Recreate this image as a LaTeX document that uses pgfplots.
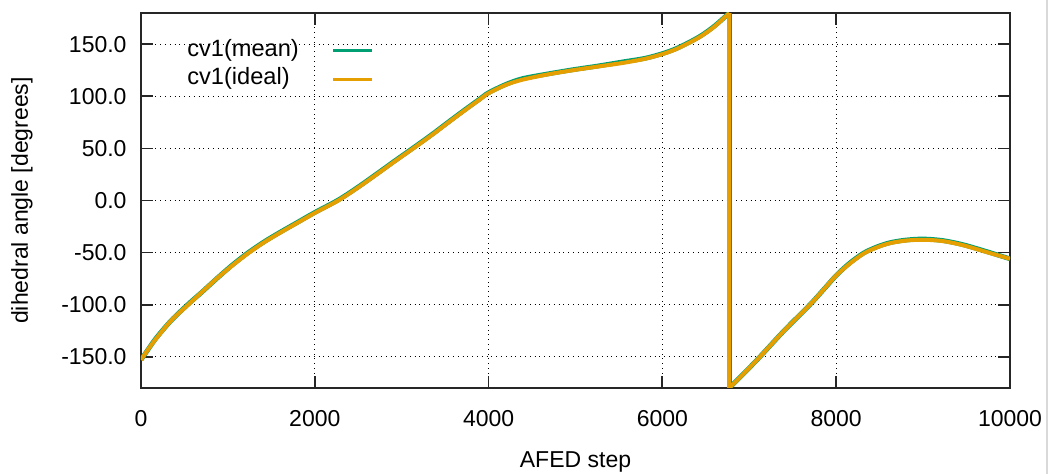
\documentclass[border=0pt]{standalone}
\usepackage{pgfplots}
\pgfplotsset{compat=1.18}
\usepackage{fontspec}
\setmainfont{Liberation Sans}

\definecolor{cvmean}{HTML}{009E73}
\definecolor{cvideal}{HTML}{E69F00}

\begin{document}
\begin{tikzpicture}
\begin{axis}[
  scale only axis, width=434.5pt, height=187.5pt,
  xmin=0, xmax=10000, ymin=-180, ymax=180,
  xtick={0,2000,...,10000}, ytick={-150,-100,...,150},
  grid=major, grid style={black, dotted, line width=0.5pt},
  axis line style={black!85, line width=0.9pt},
  major tick length=6pt, tick style={black!85, line width=0.9pt},
  font=\fontsize{11.5}{13.5}\selectfont,
  /pgf/number format/assume math mode=true,
  scaled x ticks=false,
  xticklabel style={/pgf/number format/fixed, /pgf/number format/1000 sep={}, yshift=-7.5pt},
  yticklabel style={/pgf/number format/fixed, /pgf/number format/fixed zerofill, /pgf/number format/precision=1, xshift=-3.7pt},
  xlabel={AFED step}, ylabel={dihedral angle [degrees]},
  xlabel style={at={(axis description cs:0.5,-0.197)}, anchor=center},
  ylabel style={at={(axis description cs:-0.137,0.5)}, anchor=center},
  legend plot pos=right,
  legend cell align=left,
  legend style={at={(axis description cs:0.046,0.939)}, anchor=north west,
    draw=none, fill=none, inner sep=0pt, row sep=0pt,
    nodes={inner xsep=3pt, inner ysep=1.75pt, text height=8.3pt, text depth=2.5pt},
    font=\fontsize{11.8}{14}\selectfont},
  legend image code/.code={\path (0pt,0pt); \draw[#1, line width=1.5pt] (13pt,0pt) -- (32.5pt,0pt);},
]
% mean of the collective variable (slightly noisy)
\addplot[cvmean, line width=2.4pt, smooth, tension=0.5] coordinates {
  (0,-153) (90,-142) (180,-131.5) (350,-115) (544,-99.5) (700,-88) (871,-75)
  (1050,-62) (1235,-50) (1420,-39.5) (1600,-30.5) (1800,-21) (2000,-11.5)
  (2270,0.5) (2500,13) (2712,25.5) (2920,38) (3133,50.5) (3350,63.5) (3556,76.5)
  (3750,88.5) (3900,97.5) (4000,103.5) (4200,111.5) (4391,117) (4680,121.5)
  (4966,125.5) (5250,129) (5541,133) (5800,136.5) (6000,141) (6150,145.5)
  (6300,151.5) (6450,158.5) (6600,167.5) (6770,180)
};
\addlegendentry{cv1(mean)}
\addplot[cvmean, line width=2.4pt, forget plot] coordinates {(6770,180) (6770,-180)};
\addplot[cvmean, line width=2.4pt, smooth, tension=0.5, forget plot] coordinates {
  (6770,-180) (6950,-165) (7123,-150) (7400,-125) (7698,-100) (7850,-86)
  (8000,-72) (8150,-60.5) (8315,-50.5) (8470,-44.5) (8619,-40.5) (8800,-38)
  (9003,-37) (9230,-38.5) (9463,-42.5) (9730,-49) (10000,-56)
};
% ideal value of the collective variable
\addplot[cvideal, line width=2pt, smooth, tension=0.5] coordinates {
  (0,-153) (90,-142) (180,-132) (350,-115) (544,-100) (700,-88) (871,-75)
  (1050,-62.5) (1235,-50.5) (1420,-40) (1600,-31) (1800,-21.5) (2000,-12)
  (2270,0) (2500,12.5) (2712,25) (2920,37.5) (3133,50) (3350,63) (3556,76)
  (3750,88) (3900,97) (4000,103) (4200,111) (4391,116) (4680,121)
  (4966,125) (5250,128.5) (5541,132) (5800,136) (6000,140.5) (6150,145)
  (6300,151) (6450,158) (6600,167) (6770,180)
};
\addlegendentry{cv1(ideal)}
\addplot[cvideal, line width=2pt, forget plot] coordinates {(6770,180) (6770,-180)};
\addplot[cvideal, line width=2pt, smooth, tension=0.5, forget plot] coordinates {
  (6770,-180) (6950,-165) (7123,-150) (7400,-125) (7698,-100) (7850,-86)
  (8000,-72) (8150,-61) (8315,-51) (8470,-45) (8619,-41) (8800,-38.5)
  (9003,-37.7) (9230,-39) (9463,-43) (9730,-49.5) (10000,-56)
};
\end{axis}
\draw[black!15, line width=1pt] ([xshift=18.5pt]current axis.south east) ++(0,-43pt) -- ++(0,237pt);
\pgfresetboundingbox
\path[use as bounding box] (current axis.south west) ++(-70.5pt,-43pt) rectangle ++(525.5pt,237pt);
\end{tikzpicture}
\end{document}
